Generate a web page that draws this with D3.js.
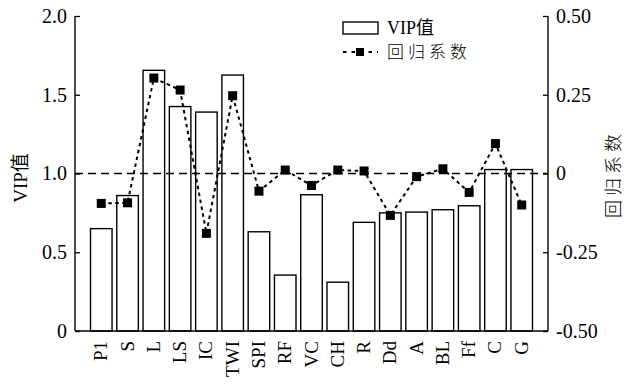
<!DOCTYPE html>
<html>
<head>
<meta charset="utf-8">
<script src="https://cdn.jsdelivr.net/npm/d3@7"></script>
<style>
body{margin:0;background:#fff;}
text{font-family:"Liberation Serif","Noto Sans CJK SC",serif;fill:#000;}
</style>
</head>
<body>
<div id="grafico"></div>
<script>
var categorias = ["P1","S","L","LS","IC","TWI","SPI","RF","VC","CH","R","Dd","A","BL","Ff","C","G"];
var vip = [0.65,0.86,1.655,1.425,1.39,1.625,0.63,0.355,0.865,0.31,0.69,0.75,0.755,0.77,0.795,1.025,1.025];
var coef = [-0.095,-0.093,0.303,0.265,-0.19,0.247,-0.056,0.011,-0.038,0.011,0.008,-0.133,-0.01,0.015,-0.06,0.095,-0.1];
var ticksVip = [0,0.5,1.0,1.5,2.0];
var ticksCoef = [-0.5,-0.25,0,0.25,0.5];

(function(){
	var izq = 75, der = 548, arriba = 16, abajo = 331;
	var svg = d3.select("#grafico").append("svg").attr("width",626).attr("height",384);

	var x = d3.scalePoint().domain(categorias).range([izq,der]).padding(1);
	var anchoBarra = x.step()*0.82;
	var yVip = d3.scaleLinear().domain([0,2]).range([abajo,arriba]);
	var yCoef = d3.scaleLinear().domain([-0.5,0.5]).range([abajo,arriba]);

	// barras VIP
	svg.append("g").selectAll("rect").data(vip).enter().append("rect")
		.attr("x",function(d,i){ return x(categorias[i])-anchoBarra/2; })
		.attr("y",function(d){ return yVip(d); })
		.attr("width",anchoBarra)
		.attr("height",function(d){ return yVip(0)-yVip(d); })
		.attr("fill","#fff").attr("stroke","#000").attr("stroke-width",1.4);

	// linea de referencia VIP = 1
	svg.append("line")
		.attr("x1",izq).attr("x2",der)
		.attr("y1",yVip(1)).attr("y2",yVip(1))
		.attr("stroke","#000").attr("stroke-width",1.4).attr("stroke-dasharray","8,5");

	// coeficientes
	var linea = d3.line()
		.x(function(d,i){ return x(categorias[i]); })
		.y(function(d){ return yCoef(d); });
	svg.append("path").datum(coef).attr("d",linea)
		.attr("fill","none").attr("stroke","#000").attr("stroke-width",2).attr("stroke-dasharray","3.5,3.5");
	svg.append("g").selectAll("rect").data(coef).enter().append("rect")
		.attr("x",function(d,i){ return x(categorias[i])-4.5; })
		.attr("y",function(d){ return yCoef(d)-4.5; })
		.attr("width",9).attr("height",9).attr("fill","#000");

	// ejes
	var ejeIzq = d3.axisRight(yVip).tickValues(ticksVip).tickSize(5).tickFormat(function(d){ return d==0 ? "0" : d.toFixed(1); });
	var gIzq = svg.append("g").attr("transform","translate("+izq+",0)").call(ejeIzq);
	gIzq.selectAll("text").attr("x",-8).attr("text-anchor","end");

	var ejeDer = d3.axisLeft(yCoef).tickValues(ticksCoef).tickSize(5).tickFormat(function(d){ return d==0 ? "0" : d.toFixed(2); });
	var gDer = svg.append("g").attr("transform","translate("+der+",0)").call(ejeDer);
	gDer.selectAll("text").attr("x",8).attr("text-anchor","start");

	[gIzq,gDer].forEach(function(g){
		g.attr("font-family",null).attr("font-size",20);
		g.select(".domain").attr("d","M0,"+arriba+"V"+abajo).attr("stroke","#000").attr("stroke-width",1.4);
		g.selectAll("line").attr("stroke","#000").attr("stroke-width",1.3);
	});

	svg.append("line").attr("x1",izq).attr("x2",der).attr("y1",abajo).attr("y2",abajo)
		.attr("stroke","#000").attr("stroke-width",1.6);

	// etiquetas de categorias
	svg.append("g").selectAll("text").data(categorias).enter().append("text")
		.attr("transform",function(d){ return "translate("+(x(d)+6)+","+(abajo+10)+") rotate(-90)"; })
		.attr("text-anchor","end")
		.attr("font-size",19)
		.text(function(d){ return d; });

	// titulos de ejes
	svg.append("text").attr("transform","translate(27,178) rotate(-90)")
		.attr("text-anchor","middle").attr("font-size",19).text("VIP值");
	svg.append("text").attr("transform","translate(620,174) rotate(-90)")
		.attr("text-anchor","middle").attr("font-size",18).attr("font-weight",300).attr("letter-spacing",4).text("回归系数");

	// leyenda
	var ley = svg.append("g");
	ley.append("rect").attr("x",343).attr("y",22).attr("width",35).attr("height",12)
		.attr("fill","#fff").attr("stroke","#000").attr("stroke-width",1.4);
	ley.append("text").attr("x",387).attr("y",34).attr("font-size",18).text("VIP值");
	ley.append("line").attr("x1",343).attr("x2",378).attr("y1",52).attr("y2",52)
		.attr("stroke","#000").attr("stroke-width",2).attr("stroke-dasharray","3.5,5");
	ley.append("rect").attr("x",356).attr("y",48).attr("width",8).attr("height",8).attr("fill","#000");
	ley.append("text").attr("x",387).attr("y",58).attr("font-size",17).attr("font-weight",300).attr("letter-spacing",4).text("回归系数");
})();
</script>
</body>
</html>
